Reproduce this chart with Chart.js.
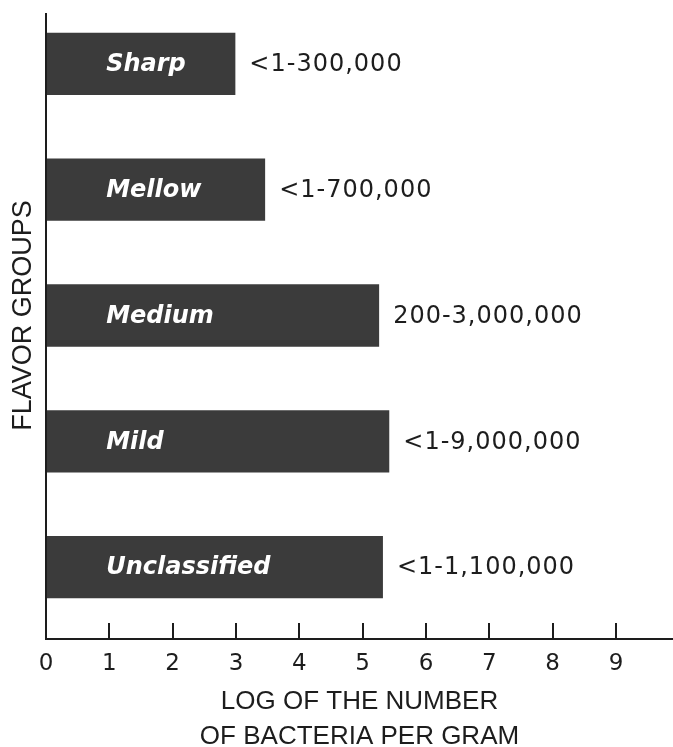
<!DOCTYPE html>
<html>
<head>
<meta charset="utf-8">
<script src="https://cdn.jsdelivr.net/npm/chart.js@4/dist/chart.umd.min.js"></script>
<style>
  body { margin: 0; background: #ffffff; }
  #wrap { width: 673px; height: 747px; position: relative; }
</style>
</head>
<body>
<div id="wrap"><canvas id="flavorChart"></canvas></div>
<script>
// flavor groups and log counts
const flavorGroups = ['Sharp', 'Mellow', 'Medium', 'Mild', 'Unclassified'];
const logBacteria = [2.99, 3.46, 5.26, 5.42, 5.32];
const rangeLabels = ['<1-300,000', '<1-700,000', '200-3,000,000', '<1-9,000,000', '<1-1,100,000'];
const xTickValues = [0, 1, 2, 3, 4, 5, 6, 7, 8, 9];

const ink = '#1d1d1d';
const ctx = document.getElementById('flavorChart').getContext('2d');

// draws the axis lines, upward tick marks and the bar texts
const barTextPlugin = {
    id: 'barText',
    afterDatasetsDraw(chart) {
        const c = chart.ctx;
        const area = chart.chartArea;
        const xScale = chart.scales.x;
        const axisY = area.bottom + 9;

        c.save();
        c.strokeStyle = ink;
        c.lineWidth = 2;
        c.beginPath();
        c.moveTo(area.left, 13);
        c.lineTo(area.left, axisY);
        c.lineTo(area.right, axisY);
        c.stroke();
        xTickValues.forEach(function (v) {
            if (v === 0) return;
            const px = Math.round(xScale.getPixelForValue(v));
            c.beginPath();
            c.moveTo(px, axisY);
            c.lineTo(px, axisY - 16);
            c.stroke();
        });

        const meta = chart.getDatasetMeta(0);
        meta.data.forEach(function (bar, i) {
            c.fillStyle = '#ffffff';
            c.font = 'italic bold 24px "DejaVu Sans"';
            c.textAlign = 'left';
            c.textBaseline = 'middle';
            c.letterSpacing = '0px';
            c.fillText(flavorGroups[i], xScale.getPixelForValue(0.95), bar.y + 1);

            c.fillStyle = ink;
            c.font = '24px "DejaVu Sans"';
            c.letterSpacing = '1px';
            c.fillText(rangeLabels[i], bar.x + 14, bar.y + 1);
        });
        c.restore();
    }
};

const flavorChart = new Chart(ctx, {
    type: 'bar',
    data: {
        labels: flavorGroups,
        datasets: [{
            data: logBacteria,
            backgroundColor: '#3b3b3b',
            borderWidth: 0,
            categoryPercentage: 1,
            barPercentage: 0.495
        }]
    },
    options: {
        indexAxis: 'y',
        responsive: true,
        maintainAspectRatio: false,
        animation: false,
        layout: {
            padding: { top: 1, right: 0, bottom: 0, left: 0 }
        },
        plugins: {
            legend: { display: false },
            tooltip: { enabled: false }
        },
        scales: {
            x: {
                type: 'linear',
                min: 0,
                max: 9.9,
                grid: { display: false, drawTicks: false },
                border: { display: false },
                afterBuildTicks: function (scale) {
                    scale.ticks = xTickValues.map(function (v) { return { value: v }; });
                },
                afterFit: function (scale) { scale.height = 117; },
                ticks: {
                    padding: 20,
                    color: ink,
                    font: { family: 'DejaVu Sans', size: 23 }
                },
                title: {
                    display: true,
                    text: ['LOG OF THE NUMBER', 'OF BACTERIA PER GRAM'],
                    color: ink,
                    font: { family: 'Liberation Sans', size: 26, lineHeight: '34.5px' },
                    padding: { top: 0, bottom: -7 }
                }
            },
            y: {
                grid: { display: false },
                border: { display: false },
                ticks: { display: false },
                afterFit: function (scale) { scale.width = 46; },
                title: {
                    display: true,
                    text: 'FLAVOR GROUPS',
                    color: ink,
                    font: { family: 'Liberation Sans', size: 27 },
                    padding: { top: 7, bottom: 0 }
                }
            }
        }
    },
    plugins: [barTextPlugin]
});
</script>
</body>
</html>
